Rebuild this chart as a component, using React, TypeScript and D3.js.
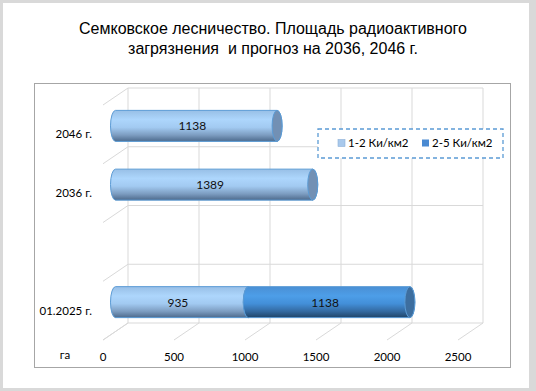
import React from "react";
import * as d3 from "d3";

const categories = ["01.2025 г.", "", "2036 г.", "2046 г."];
const series1Name = "1-2 Ки/км2";
const series2Name = "2-5 Ки/км2";
const series1 = [935, 0, 1389, 1138];
const series2 = [1138, 0, 0, 0];
const xTicks = [0, 500, 1000, 1500, 2000, 2500];
const titleLines = [
  "Семковское лесничество. Площадь радиоактивного",
  "загрязнения  и прогноз на 2036, 2046 г.",
];
const unitLabel = "га";

const W = 536;
const H = 391;
const DX = -25;
const DY = 17;
const BAR_H = 31;
const RX = 5;
const FONT = "Lato, 'Open Sans', sans-serif";

function cylPath(xs: number, xe: number, yc: number, h: number, rx: number) {
  const t = yc - h / 2;
  const b = yc + h / 2;
  const ry = h / 2;
  return `M${xs},${t} L${xe},${t} A${rx},${ry} 0 0 1 ${xe},${b} L${xs},${b} A${rx},${ry} 0 0 1 ${xs},${t} Z`;
}

export default function App() {
  const x = d3.scaleLinear().domain([0, 2500]).range([128, 483]);
  const idx = categories.map((_, i) => String(i));
  const y = d3
    .scaleBand<string>()
    .domain([...idx].reverse())
    .range([88, 323])
    .padding(0);
  const bandTops = idx.map((i) => y(i) as number);
  const hLines = [...bandTops, 323];

  const grid = "#d9d9d9";

  const bars: React.ReactNode[] = [];
  categories.forEach((c, i) => {
    const yc = (y(String(i)) as number) + y.bandwidth() / 2 + DY / 2;
    const segs = [
      { v0: 0, v1: series1[i], grad: "g1", cap: "#7290b4" },
      { v0: series1[i], v1: series1[i] + series2[i], grad: "g2", cap: "#3d6e9f" },
    ];
    segs.forEach((s, k) => {
      if (s.v1 - s.v0 <= 0) return;
      const xs = x(s.v0) + DX / 2;
      const xe = x(s.v1) + DX / 2;
      bars.push(
        <g key={`b${i}-${k}`}>
          <path d={cylPath(xs, xe, yc, BAR_H, RX)} fill={`url(#${s.grad})`} stroke="#5b9bd5" strokeWidth={1} />
          <ellipse cx={xe} cy={yc} rx={RX} ry={BAR_H / 2} fill={s.cap} stroke="#5b9bd5" strokeWidth={1} />
        </g>
      );
    });
  });
  const labels: React.ReactNode[] = [];
  categories.forEach((c, i) => {
    const yc = (y(String(i)) as number) + y.bandwidth() / 2 + DY / 2;
    const segs = [
      { v0: 0, v1: series1[i] },
      { v0: series1[i], v1: series1[i] + series2[i] },
    ];
    segs.forEach((s, k) => {
      if (s.v1 - s.v0 <= 0) return;
      const xm = (x(s.v0) + x(s.v1)) / 2 + DX / 2 - 4;
      labels.push(
        <text key={`l${i}-${k}`} x={xm} y={yc + 4.5} textAnchor="middle" fontFamily={FONT} fontSize={12} fill="#111">
          {s.v1 - s.v0}
        </text>
      );
    });
  });

  return (
    <svg width={W} height={H} style={{ position: "absolute", left: 0, top: 0 }}>
      <defs>
        <linearGradient id="g1" x1="0" y1="0" x2="0" y2="1">
          <stop offset="0" stopColor="#98bfe6" />
          <stop offset="0.3" stopColor="#add6fc" />
          <stop offset="0.55" stopColor="#a2caf1" />
          <stop offset="0.8" stopColor="#7c9cc0" />
          <stop offset="1" stopColor="#4d6a8c" />
        </linearGradient>
        <linearGradient id="g2" x1="0" y1="0" x2="0" y2="1">
          <stop offset="0" stopColor="#4a8fd4" />
          <stop offset="0.3" stopColor="#4d9ee8" />
          <stop offset="0.55" stopColor="#438fd8" />
          <stop offset="0.8" stopColor="#3369a0" />
          <stop offset="1" stopColor="#1f4468" />
        </linearGradient>
      </defs>
      <rect x={0} y={0} width={W} height={H} fill="#d9d9d9" />
      <rect x={3} y={3} width={526} height={385} fill="#ffffff" />
      {titleLines.map((t, i) => (
        <text key={t} x={273} y={33.5 + i * 20} textAnchor="middle" fontFamily="'Liberation Sans', Arial, sans-serif" fontSize={16} fill="#000" xmlSpace="preserve" style={{ whiteSpace: "pre" }}>
          {t}
        </text>
      ))}
      <rect x={34.5} y={83.5} width={476} height={284} fill="#fff" stroke="#a6a6a6" strokeWidth={1} />

      {xTicks.map((t) => (
        <line key={`v${t}`} x1={x(t)} x2={x(t)} y1={88} y2={323} stroke={grid} />
      ))}
      {hLines.map((yy, i) => (
        <line key={`h${i}`} x1={x(0)} x2={x(2500)} y1={yy} y2={yy} stroke={grid} />
      ))}
      {hLines.map((yy, i) => (
        <line key={`dl${i}`} x1={x(0)} x2={x(0) + DX} y1={yy} y2={yy + DY} stroke={grid} />
      ))}
      {xTicks.map((t) => (
        <line key={`df${t}`} x1={x(t)} x2={x(t) + DX} y1={323} y2={323 + DY} stroke={grid} />
      ))}

      {bars}
      {labels}

      {categories.map((c, i) => (
        <text key={`c${i}`} x={92} y={(y(String(i)) as number) + y.bandwidth() / 2 + DY + 4} textAnchor="end" fontFamily={FONT} fontSize={11.5} fill="#000">
          {c}
        </text>
      ))}
      {xTicks.map((t) => (
        <text key={`t${t}`} x={x(t) + DX} y={361} textAnchor="middle" fontFamily={FONT} fontSize={11.5} fill="#000">
          {t}
        </text>
      ))}
      <text x={65} y={359} textAnchor="middle" fontFamily={FONT} fontSize={11.5} fill="#000">
        {unitLabel}
      </text>

      <rect x={318} y={129} width={185} height={29} fill="#fff" stroke="#5b9bd5" strokeWidth={1.3} strokeDasharray="4,3" />
      <rect x={338} y={139.5} width={7} height={7} fill="#a9c9ec" stroke="#8db0d8" strokeWidth={0.6} />
      <text x={348} y={147} fontFamily={FONT} fontSize={11.5} fill="#000">{series1Name}</text>
      <rect x={422} y={139.5} width={7} height={7} fill="#4a8ad2" />
      <text x={432} y={147} fontFamily={FONT} fontSize={11.5} fill="#000">{series2Name}</text>
    </svg>
  );
}
